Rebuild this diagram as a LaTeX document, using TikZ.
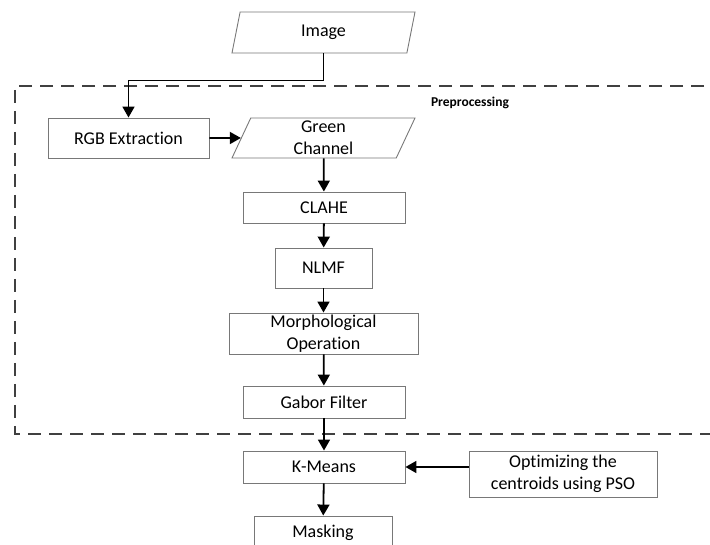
\documentclass[tikz,border=0pt]{standalone}
\usepackage{fontspec}
\setmainfont[Ligatures=NoCommon]{Carlito}
\usepackage{tikz}
\usetikzlibrary{arrows.meta, shapes.geometric}
\definecolor{boxGray}{RGB}{120,120,120}
\definecolor{dashGray}{RGB}{64,64,64}

\begin{document}
\begin{tikzpicture}[x=1pt, y=-1pt,
		proc/.style={draw=boxGray, line width=0.9pt, rectangle, inner sep=0pt, align=center,
			font=\fontsize{18}{22}\selectfont},
		io/.style={draw=boxGray, line width=0.9pt, trapezium, trapezium left angle=61,
			trapezium right angle=119, trapezium stretches body, inner sep=0pt, align=center,
			minimum width=183, font=\fontsize{18}{22}\selectfont},
		arr/.style={line width=1.8pt, black, -{Triangle[width=12pt, length=11pt]}}]
				
				\useasboundingbox (0,0) rectangle (710,545);
				
				\draw [dashGray, line width=1.8pt, dash pattern=on 13pt off 8pt] (725,86) -- (15,86) -- (15,434) -- (725,434);
				\node [font=\fontsize{13.5}{16}\selectfont\bfseries] (prep) at (470,103) {Preprocessing};
				
				\node [io, minimum height=41] (image) at (323.5,32.5) {Image};
				\node [proc, minimum width=161, minimum height=40] (rgb) at (128.5,138) {RGB Extraction};
				\node [io, minimum height=40] (green) at (323.5,138) {Green\\Channel};
				\node [proc, minimum width=162, minimum height=31] (clahe) at (324,207.5) {CLAHE};
				\node [proc, minimum width=97, minimum height=40] (nlmf) at (323.5,268) {NLMF};
				\node [proc, minimum width=189, minimum height=41] (morph) at (323.5,333.5) {Morphological\\Operation};
				\node [proc, minimum width=162, minimum height=32] (gabor) at (324,402) {Gabor Filter};
				\node [proc, minimum width=162, minimum height=32] (kmeans) at (324,467) {K-Means};
				\node [proc, minimum width=188, minimum height=46] (pso) at (563,474) {Optimizing the\\centroids using PSO};
				\node [proc, minimum width=138, minimum height=34] (mask) at (323,533) {Masking};
				
				\draw [arr] (image.south) -- ++(0,27) -| (rgb.north);
				\draw [arr] (rgb) -- (green);
				\draw [arr] (green) -- (clahe);
				\draw [arr] (clahe) -- (nlmf);
				\draw [arr] (nlmf) -- (morph);
				\draw [arr] (morph) -- (gabor);
				\draw [arr] (gabor) -- (kmeans);
				\draw [arr] (pso.west |- kmeans) -- (kmeans);
				\draw [arr] (kmeans) -- (mask);
			\end{tikzpicture}
\end{document}
